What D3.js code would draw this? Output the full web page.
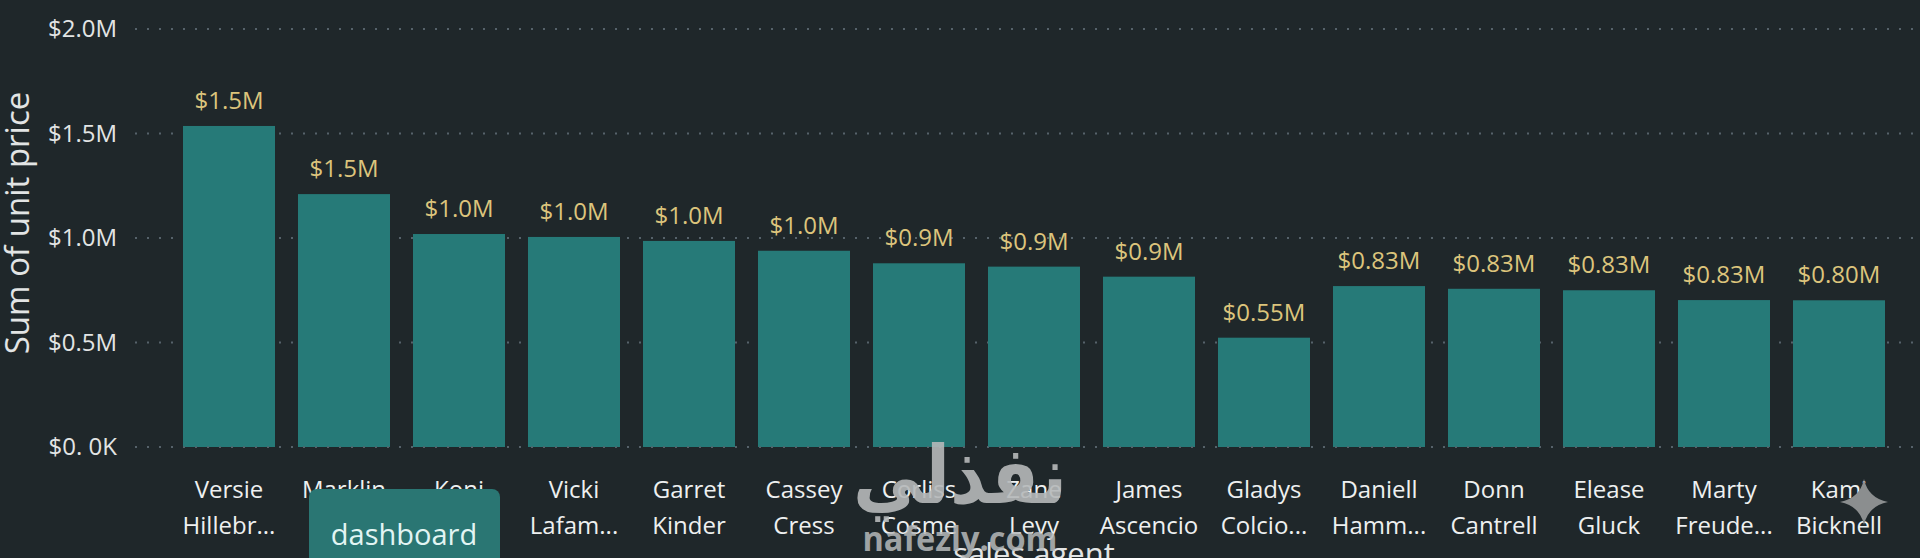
<!doctype html>
<html>

<head>
	<title> Sum of unit price by sales agent </title>
	<script src="https://d3js.org/d3.v7.min.js"></script>
</head>

<style>
	body { margin:0;
		   background-color:#1f272a;
		   overflow:hidden;
		 }
	svg { display:block; }
	.tick-y { font-family:'Open Sans'; font-size:24px; fill:#e2e4e4; }
	.val { font-family:'Open Sans'; font-size:24px; fill:#dcc47c; }
	.xl { font-family:'Open Sans'; font-size:24px; fill:#eef0f0; }
	.ttl { font-family:'Open Sans'; font-size:33px; fill:#e2e4e4; }
</style>

<body>
<script>

	// sales agents, two lines each as shown under the bars
	var agents = ["Versie Hillebr","Marklin Pesc","Koni Kraut","Vicki Lafam","Garret Kinder",
				  "Cassey Cress","Corliss Cosme","Zane Levy","James Ascencio","Gladys Colcio",
				  "Daniell Hamm","Donn Cantrell","Elease Gluck","Marty Freude","Kami Bicknell"]

	var line1 = ["Versie","Marklin","Koni","Vicki","Garret","Cassey","Corliss","Zane",
				 "James","Gladys","Daniell","Donn","Elease","Marty","Kami"]
	var line2 = ["Hillebr...","F...","Kra...","Lafam...","Kinder","Cress","Cosme","Levy",
				 "Ascencio","Colcio...","Hamm...","Cantrell","Gluck","Freude...","Bicknell"]

	// sum of unit price, millions
	var values = [1.536,1.21,1.019,1.005,0.986,0.939,0.879,0.863,0.815,0.523,0.770,0.757,0.750,0.703,0.702]

	// data labels as printed above the bars
	var valueLabels = ["$1.5M","$1.5M","$1.0M","$1.0M","$1.0M","$1.0M","$0.9M","$0.9M","$0.9M",
					   "$0.55M","$0.83M","$0.83M","$0.83M","$0.83M","$0.80M"]

	var yTicks = [0,0.5,1.0,1.5,2.0]
	var yTickLabels = ["$0. 0K","$0.5M","$1.0M","$1.5M","$2.0M"]

	var width = 1920
	var height = 558

	var svg = d3.select("body")
				.append("svg")
				.attr("width",width)
				.attr("height",height);

	var y = d3.scaleLinear()
			  .domain([0,2])
			  .range([447,29]);

	var x = d3.scaleBand()
			  .domain(agents)
			  .range([171.5,1896.5])
			  .paddingInner(0.2)
			  .paddingOuter(0.1);

	// dotted gridlines
	svg.selectAll(".grid")
		.data(yTicks)
		.enter()
			.append("line")
			.attr("class","grid")
			.attr("x1",135)
			.attr("x2",width)
			.attr("y1",function(d) { return y(d); })
			.attr("y2",function(d) { return y(d); })
			.attr("stroke","#56626a")
			.attr("stroke-width",2)
			.attr("stroke-dasharray","2,10");

	svg.selectAll(".tick-y")
		.data(yTicks)
		.enter()
			.append("text")
			.attr("class","tick-y")
			.attr("x",117)
			.attr("y",function(d) { return y(d); })
			.attr("dy","0.35em")
			.attr("text-anchor","end")
			.text(function(d,i) { return yTickLabels[i]; });

	svg.append("text")
		.attr("class","ttl")
		.attr("transform","translate(29,223) rotate(-90)")
		.attr("text-anchor","middle")
		.text("Sum of unit price");

	svg.selectAll(".bar")
		.data(values)
		.enter()
			.append("rect")
			.attr("class","bar")
			.attr("x",function(d,i) { return x(agents[i]); })
			.attr("y",function(d) { return y(d); })
			.attr("width",x.bandwidth())
			.attr("height",function(d) { return y(0) - y(d); })
			.attr("fill","#267a78");

	// zero line dots show faintly over the bar bottoms
	svg.append("line")
		.attr("x1",135)
		.attr("x2",width)
		.attr("y1",y(0))
		.attr("y2",y(0))
		.attr("stroke","#56626a")
		.attr("stroke-width",2)
		.attr("stroke-dasharray","2,10")
		.attr("opacity",0.6);

	svg.selectAll(".val")
		.data(values)
		.enter()
			.append("text")
			.attr("class","val")
			.attr("x",function(d,i) { return x(agents[i]) + x.bandwidth()/2; })
			.attr("y",function(d) { return y(d) - 17; })
			.attr("text-anchor","middle")
			.text(function(d,i) { return valueLabels[i]; });

	var xl = svg.selectAll(".xl")
		.data(agents)
		.enter()
			.append("text")
			.attr("class","xl")
			.attr("text-anchor","middle");

	xl.append("tspan")
		.attr("x",function(d) { return x(d) + x.bandwidth()/2; })
		.attr("y",498)
		.text(function(d,i) { return line1[i]; });

	xl.append("tspan")
		.attr("x",function(d) { return x(d) + x.bandwidth()/2; })
		.attr("y",534)
		.text(function(d,i) { return line2[i]; });

	svg.append("text")
		.attr("class","ttl")
		.attr("x",(x.range()[0] + x.range()[1])/2)
		.attr("y",565)
		.attr("text-anchor","middle")
		.style("font-size","31px")
		.text("sales agent");

	// overlays sitting on top of the screenshot
	svg.append("rect")
		.attr("x",309)
		.attr("y",489)
		.attr("width",191)
		.attr("height",90)
		.attr("rx",8)
		.attr("fill","#2a7673");

	svg.append("text")
		.attr("x",404)
		.attr("y",545)
		.attr("text-anchor","middle")
		.style("font-family","'Open Sans'")
		.style("font-size","29px")
		.attr("fill","#e2f5f3")
		.text("dashboard");

	svg.append("text")
		.attr("x",960)
		.attr("y",503)
		.attr("text-anchor","middle")
		.attr("textLength",214)
		.attr("lengthAdjust","spacingAndGlyphs")
		.style("font-family","'DejaVu Sans'")
		.style("font-weight","bold")
		.style("font-size","80px")
		.attr("fill","#b6b9ba")
		.attr("opacity",0.9)
		.text("نفذلي");

	svg.append("text")
		.attr("x",960)
		.attr("y",551)
		.attr("text-anchor","middle")
		.attr("textLength",195)
		.attr("lengthAdjust","spacingAndGlyphs")
		.style("font-family","'Open Sans'")
		.style("font-weight","bold")
		.style("font-size","34px")
		.attr("fill","#b6b9ba")
		.attr("opacity",0.85)
		.text("nafezly.com");

	svg.append("path")
		.attr("transform","translate(1864,502)")
		.attr("d","M0,-23 Q4,-4 24,0 Q4,4 0,23 Q-4,4 -24,0 Q-4,-4 0,-23 Z")
		.attr("fill","#8b8e8f");

</script>
</body>

</html>
